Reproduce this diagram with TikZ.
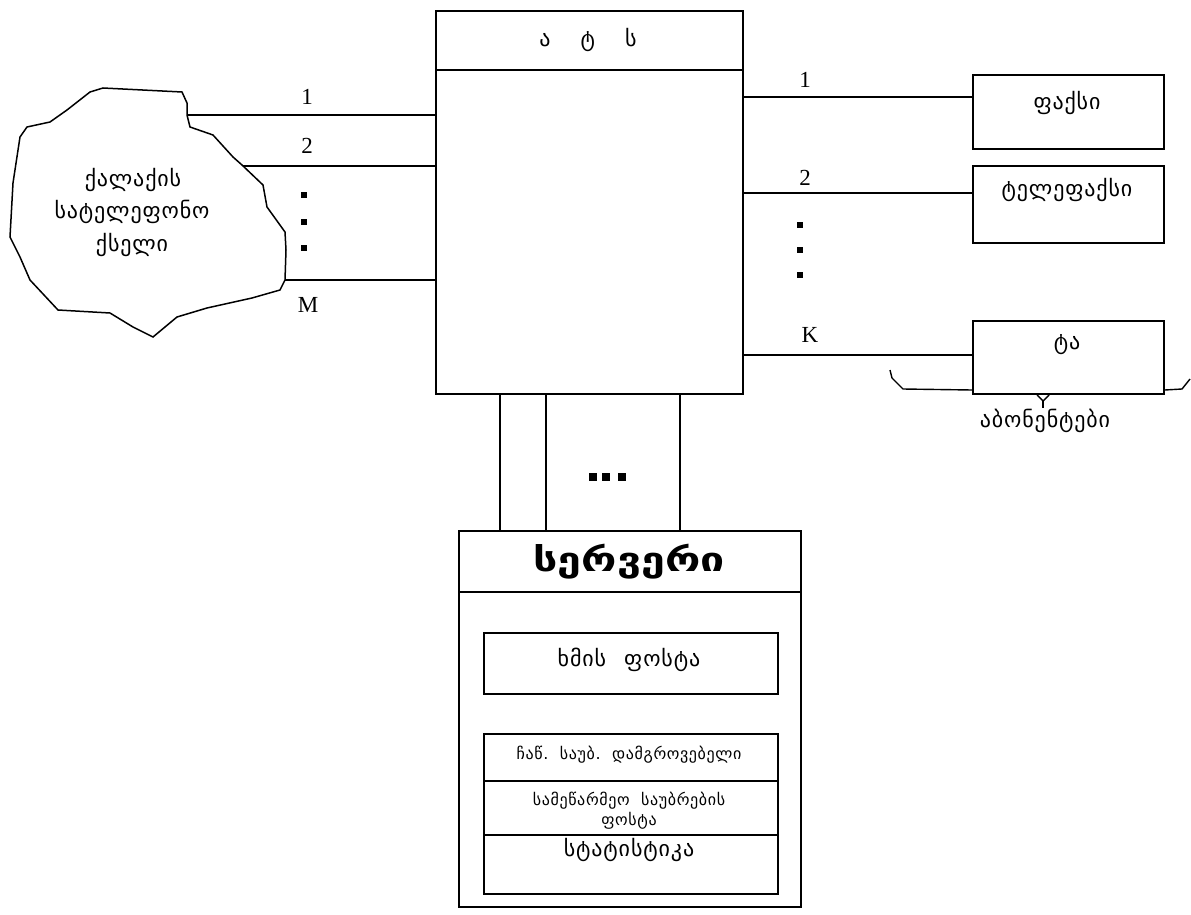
\documentclass[tikz,border=0pt]{standalone}
\usepackage{fontspec}
\setmainfont{Liberation Serif}
\newfontfamily\geo[LetterSpace=4]{DejaVu Sans}
\newfontfamily\geoplain{DejaVu Sans}
\begin{document}
\begin{tikzpicture}[x=1pt,y=-1pt,line width=1.8pt,
  box/.style={draw,rectangle,inner sep=0pt,anchor=north west},
  geo/.style={font=\geo\fontsize{22}{26}\selectfont,inner sep=0pt,align=center},
  geosmall/.style={font=\geo\fontsize{16}{18}\selectfont,inner sep=0pt,align=center},
  num/.style={font=\fontsize{23}{25}\selectfont,inner sep=0pt},
  sq/.style={fill,minimum size=6pt,inner sep=0pt}]
\useasboundingbox[fill=white] (0,0) rectangle (1191,915);
% ATS
\node[box,minimum width=307pt,minimum height=383pt] (ats) at (435,10) {};
\draw (ats.west |- 0,70) -- (ats.east |- 0,70);
\node[geo] (atstitle) at (588,40) {ა\hspace{30pt}ტ\hspace{30pt}ს};
% cloud
\draw[line width=1.5pt] (90,92) -- (103,88) -- (182,92) -- (187,103) -- (187,115) -- (190,127) -- (213,135)
  -- (233,157) -- (242,165) -- (263,185) -- (267,207) -- (285,232) -- (286,250) -- (285,280)
  -- (280,290) -- (252,298) -- (207,308) -- (177,317) -- (153,337) -- (133,327) -- (110,313)
  -- (58,310) -- (30,280) -- (20,257) -- (10,237) -- (13,183) -- (20,137) -- (27,127)
  -- (50,122) -- (67,110) -- cycle;
\node[geo] (cl1) at (133,180) {ქალაქის};
\node[geo] (cl2) at (132,212) {სატელეფონო};
\node[geo] (cl3) at (132,245) {ქსელი};
% left trunks
\coordinate (l1) at (188,115);
\coordinate (l2) at (243,166);
\coordinate (lm) at (285,280);
\draw (l1) -- (l1 -| ats.west);
\draw (l2) -- (l2 -| ats.west);
\draw (lm) -- (lm -| ats.west);
\node[num] (n1) at (307,97) {1};
\node[num] (n2) at (307,146) {2};
\node[num] (nm) at (308,305) {M};
\node[sq] (ld1) at (304,195) {};
\node[sq] (ld2) at (304,222) {};
\node[sq] (ld3) at (304,248) {};
% right boxes
\node[box,minimum width=191pt,minimum height=74pt] (fax) at (972,74) {};
\node[geo] (faxt) at (1067,103) {ფაქსი};
\node[box,minimum width=191pt,minimum height=77pt] (tfax) at (972,165) {};
\node[geo] (tfaxt) at (1067,190) {ტელეფაქსი};
\node[box,minimum width=191pt,minimum height=73pt] (ta) at (972,320) {};
\node[geo] (tat) at (1067,345) {ტა};
\coordinate (r1) at (742,97);
\coordinate (r2) at (742,193);
\coordinate (rk) at (742,355);
\draw (r1) -- (r1 -| fax.west);
\draw (r2) -- (r2 -| tfax.west);
\draw (rk) -- (rk -| ta.west);
\node[num] (m1) at (805,80) {1};
\node[num] (m2) at (805,178) {2};
\node[num] (mk) at (810,335) {K};
\node[sq] (rd1) at (800,225) {};
\node[sq] (rd2) at (800,250) {};
\node[sq] (rd3) at (800,275) {};
% subscriber brace
\coordinate (bl) at (890,370);
\coordinate (br) at (1190,379);
\draw[line width=1.4pt] (bl) -- (892,378) -- (903,389) -- (ta.south west |- 0,390);
\draw[line width=1.4pt] (ta.south east |- 0,390) -- (1182,389) -- (br);
\coordinate (ytip) at (1043,401);
\draw[line width=1.4pt] (1037,395) -- (ytip) -- (1049,395);
\draw[line width=1.4pt] (ytip) -- (1043,408);
\node[geo] (abon) at (1045,421) {აბონენტები};
% server
\node[box,minimum width=342pt,minimum height=376pt] (srv) at (458,530) {};
\draw (srv.west |- 0,592) -- (srv.east |- 0,592);
\node[font=\geoplain\bfseries\fontsize{33}{38}\selectfont,inner sep=0pt] (srvt) at (629,562) {\scalebox{1.3}[1]{სერვერი}};
\foreach \x in {500,546,680} \draw (ats.south -| \x,0) -- (srv.north -| \x,0);
\node[sq,minimum size=8pt] (bd1) at (593,477) {};
\node[sq,minimum size=8pt] (bd2) at (606,477) {};
\node[sq,minimum size=8pt] (bd3) at (622,477) {};
\node[box,minimum width=294pt,minimum height=61pt] (vm) at (483,632) {};
\node[geo] (vmt) at (629,660) {ხმის\hspace{18pt}ფოსტა};
\node[box,minimum width=294pt,minimum height=160pt] (stack) at (483,733) {};
\draw (stack.west |- 0,781) -- (stack.east |- 0,781);
\draw (stack.west |- 0,835) -- (stack.east |- 0,835);
\node[geosmall] (s1) at (629,755) {ჩაწ.\ \ საუბ.\ \ დამგროვებელი};
\node[geosmall] (s2) at (629,801) {სამეწარმეო\ \ საუბრების};
\node[geosmall] (s2b) at (629,821) {ფოსტა};
\node[geo] (s3) at (629,850) {სტატისტიკა};
\end{tikzpicture}
\end{document}
